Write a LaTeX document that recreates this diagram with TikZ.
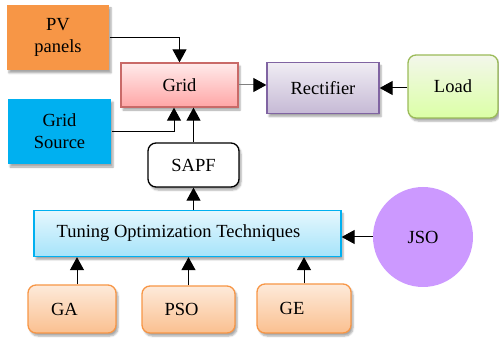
\documentclass[tikz,border=0pt]{standalone}
\usepackage{fontspec}
\setmainfont{Liberation Serif}
\usetikzlibrary{arrows.meta,shadows.blur}
\definecolor{pvorange}{HTML}{F79646}
\definecolor{gridred}{HTML}{C0504D}
\definecolor{srcblue}{HTML}{00B0F0}
\definecolor{rectpurple}{HTML}{8064A2}
\definecolor{loadgreen}{HTML}{9BBB59}
\definecolor{jsoviolet}{HTML}{CC99FF}
\tikzset{
  box/.style={draw, line width=1.3pt, inner sep=2pt, align=center,
    font=\fontsize{18.5}{22}\selectfont,
    blur shadow={shadow xshift=2pt, shadow yshift=-3pt, shadow blur steps=5, shadow opacity=35}},
  flatbox/.style={box, draw=none},
  algbox/.style={box, rounded corners=8pt, draw=pvorange, top color=pvorange!20, bottom color=pvorange!60},
  conn/.style={line width=1pt, -{Triangle[width=14pt,length=13pt,color=black,fill=black]}},
}
\begin{document}
\begin{tikzpicture}[x=1pt,y=-1pt]
\useasboundingbox (0,0) rectangle (499,342);

% sources and grid
\node[flatbox, fill=pvorange, minimum width=102pt, minimum height=65pt] (pv) at (58,37.5) {PV\\panels};
\node[flatbox, fill=srcblue, minimum width=103pt, minimum height=65pt] (gs) at (59.5,131.5) {Grid\\Source};
\node[box, draw=gridred!85, top color=red!8, bottom color=red!35, minimum width=117pt, minimum height=44pt] (grid) at (179.5,85) {Grid};
\node[box, rounded corners=8pt, draw=black, fill=white, minimum width=91pt, minimum height=44pt] (sapf) at (193.5,165) {SAPF};

% power path
\node[box, draw=rectpurple, top color=rectpurple!12, bottom color=rectpurple!45, minimum width=112pt, minimum height=51pt] (rect) at (323,88) {Rectifier};
\node[box, rounded corners=8pt, draw=loadgreen, top color=loadgreen!12, bottom color=green!40!yellow!35, minimum width=90pt, minimum height=63pt] (load) at (453,86.5) {Load};

% tuning stage
\node[box, draw=srcblue, top color=srcblue!10, bottom color=srcblue!35, minimum width=307pt, minimum height=46pt] (tune) at (187.5,233.5) {Tuning Optimization Techniques\hspace*{18pt}};
\node[circle, fill=jsoviolet, minimum size=100pt, inner sep=0pt, font=\fontsize{18.5}{22}\selectfont] (jso) at (423,237) {JSO};
\node[algbox, minimum width=88pt, minimum height=48pt] (ga) at (72,309) {GA\hspace*{15pt}};
\node[algbox, minimum width=93pt, minimum height=47pt] (pso) at (188.5,309.5) {PSO\hspace*{14pt}};
\node[algbox, minimum width=94pt, minimum height=49pt] (ge) at (304,308.5) {GE\hspace*{24pt}};

% connectors
\draw[conn] (pv.east) -| (grid.north);
\draw[conn] (gs.east) -| ([xshift=-5.5pt]grid.south);
\draw[conn] (sapf.north) -- (sapf.north |- grid.south);
\draw[conn] (tune.north -| sapf.south) -- (sapf.south);
\draw[conn, draw=gray] (grid.east) -- (grid.east -| rect.west);
\draw[conn] (load.west |- rect.east) -- (rect.east);
\draw[conn] (jso.west) -- (jso.west -| tune.east);
\draw[conn] ([xshift=5pt]ga.north) -- ([xshift=5pt]ga.north |- tune.south);
\draw[conn] (pso.north) -- (pso.north |- tune.south);
\draw[conn] (ge.north) -- (ge.north |- tune.south);
\end{tikzpicture}
\end{document}
